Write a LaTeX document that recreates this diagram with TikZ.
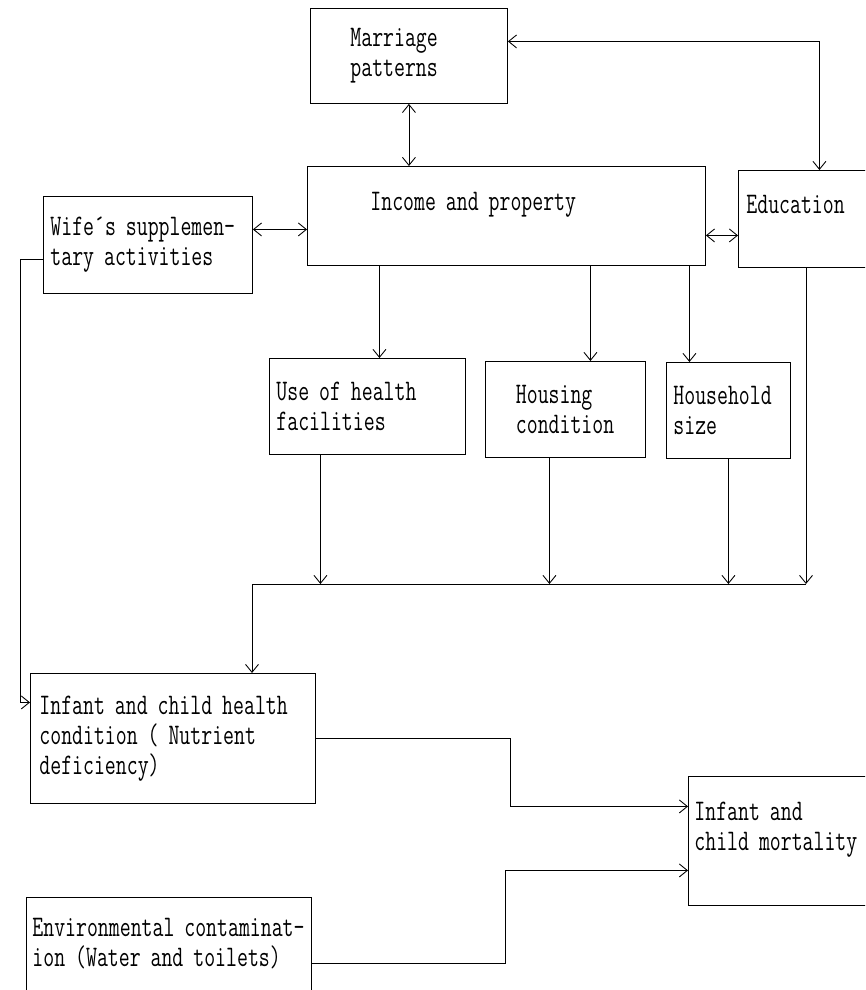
\documentclass[tikz,border=0pt]{standalone}
\usepackage{fontspec}
\newfontfamily\dotmono[FakeStretch=0.71]{Latin Modern Mono}
\usepackage{tikz}
\usetikzlibrary{arrows.meta}

\begin{document}
\begin{tikzpicture}[x=0.2mm, y=-0.2mm, line width=0.5pt,
    >={Straight Barb[length=1.6mm,width=2.6mm]},
    box/.style={draw, anchor=north west, align=left, inner sep=0pt,
      font=\dotmono\fontsize{17}{17}\selectfont}]
  \path[use as bounding box, clip] (0,0) rectangle (865,990);

  % top row
  \node[box, minimum width=39.4mm, minimum height=19mm, text width=23.4mm] (marriage) at (310,8) {Marriage\\patterns};
  \node[box, minimum width=79.6mm, minimum height=19.8mm, text width=54.4mm] (income) at (307,166) {Income and property\\ \mbox{}};
  \node[box, minimum width=34mm, minimum height=19.4mm, text width=30.8mm] (educ) at (738,170) {Education\\ \mbox{}};
  \node[box, minimum width=41.8mm, minimum height=19.4mm, text width=39mm] (wife) at (43,196) {Wife´s supplemen-\\tary activities};

  % middle row
  \node[box, minimum width=39.2mm, minimum height=19.2mm, text width=36.4mm] (use) at (269,358) {Use of health\\facilities};
  \node[box, minimum width=32mm, minimum height=19.2mm, text width=19.8mm] (housing) at (485,361) {Housing\\condition};
  \node[box, minimum width=24.8mm, minimum height=19.2mm, text width=22mm] (household) at (666,362) {Household\\size};

  % bottom
  \node[box, minimum width=57mm, minimum height=26mm, text width=53.4mm] (infant) at (30,673) {Infant and child health\\condition ( Nutrient\\deficiency)};
  \node[box, minimum width=36mm, minimum height=25.8mm, text width=33.6mm] (mort) at (688,776) {Infant and\\child mortality\\ \mbox{}};
  \node[box, minimum width=57mm, minimum height=24mm, text width=54.6mm] (env) at (26,897) {Environmental contaminat-\\ion (Water and toilets)\\ \mbox{}};

  \coordinate (busL) at (252,584);
  \coordinate (busR) at (806,584);

  \draw[<->] (marriage.south) -- (marriage.south |- income.north);
  \draw[<->] ([yshift=2.9mm]marriage.east) -| ([xshift=-0.8mm]educ.north);
  \draw[<->] ([yshift=3.1mm]wife.east) -- ([yshift=3.1mm]wife.east -| income.west);
  \draw[<->] ([yshift=-3.3mm]educ.west -| income.east) -- ([yshift=-3.3mm]educ.west);

  \draw[<-] ([xshift=2.4mm]use.north) -- ([xshift=2.4mm]use.north |- income.south);
  \draw[<-] ([xshift=5mm]housing.north) -- ([xshift=5mm]housing.north |- income.south);
  \draw[<-] ([xshift=-7.8mm]household.north) -- ([xshift=-7.8mm]household.north |- income.south);

  \draw (busL) -- (busR);
  \draw[->] ([xshift=-9.4mm]use.south) -- ([xshift=-9.4mm]use.south |- busL);
  \draw[->] ([xshift=-3.2mm]housing.south) -- ([xshift=-3.2mm]housing.south |- busL);
  \draw[->] (household.south) -- (household.south |- busL);
  \draw[->] (busR |- educ.south) -- (busR);
  \draw[->] (busL) -- (busL |- infant.north);

  \draw[->] ([yshift=-2.9mm]wife.west) -- ++(-4.6mm,0) |- ([yshift=7.2mm]infant.west);
  \draw[->] (infant.east) -- ++(39mm,0) |- ([yshift=6.9mm]mort.west);
  \draw[->] ([yshift=-1.2mm]env.east) -- ++(38.8mm,0) |- ([yshift=-5.9mm]mort.west);
\end{tikzpicture}
\end{document}
